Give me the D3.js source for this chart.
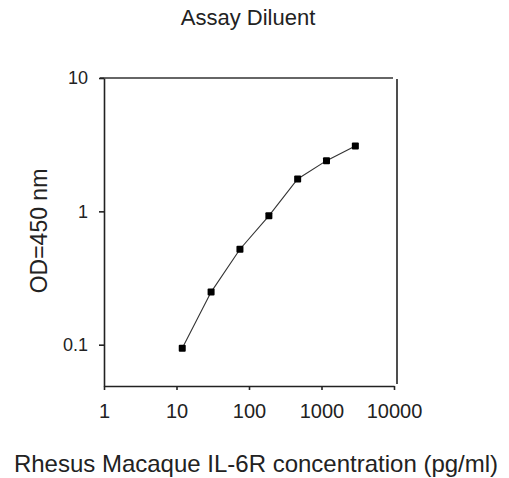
<!DOCTYPE html>
<html>
<head>
<meta charset="utf-8">
<script src="https://cdn.jsdelivr.net/npm/d3@7"></script>
<style>
  body { margin: 0; background: #fff; }
  text { font-family: "Liberation Sans", Arial, sans-serif; fill: #222; }
  .axis path, .axis line { stroke: #222; stroke-width: 1.6px; }
  .axis text { font-family: "Liberation Sans", Arial, sans-serif; fill: #222; }
</style>
</head>
<body>
<div id="chart"></div>
<script>
// concentration (pg/ml) and OD readings
var concentration = [12, 30, 75, 188, 469, 1172, 2930];
var od = [0.094, 0.248, 0.52, 0.925, 1.75, 2.4, 3.09];
var xTicks = [1, 10, 100, 1000, 10000];
var yTicks = [0.1, 1, 10];
var xBounds = [1, 10000];
var yBounds = [0.049, 10];

var width = 509, height = 478;
var svg = d3.select("#chart").append("svg")
    .attr("width", width)
    .attr("height", height);

// scales (log on both sides)
var x = d3.scaleLog().domain(xBounds).range([104, 394]);
var y = d3.scaleLog().domain(yBounds).range([386, 78]);

// the box: top and right lines
svg.append("line")
    .attr("x1", x(xBounds[0]) - 4).attr("x2", x(xBounds[1]) - 1)
    .attr("y1", y(yBounds[1])).attr("y2", y(yBounds[1]))
    .attr("stroke", "#333").attr("stroke-width", 1.6);
svg.append("line")
    .attr("x1", x(xBounds[1]) + 3).attr("x2", x(xBounds[1]) + 3)
    .attr("y1", y(yBounds[1]) + 1).attr("y2", y(yBounds[0]) - 2)
    .attr("stroke", "#222").attr("stroke-width", 1.6);

// x axis
var xAxis = d3.axisBottom(x)
    .tickValues(xTicks)
    .tickSize(4)
    .tickSizeOuter(0)
    .tickPadding(14)
    .tickFormat(d3.format("d"));
svg.append("g")
    .attr("class", "axis")
    .attr("transform", "translate(0," + y(yBounds[0]) + ")")
    .call(xAxis)
    .selectAll("text")
    .style("font-size", "20px");

// y axis
var yAxis = d3.axisLeft(y)
    .tickValues(yTicks)
    .tickSize(5)
    .tickSizeOuter(0)
    .tickPadding(11)
    .tickFormat(function(d) { return d < 1 ? d3.format(".1f")(d) : d3.format("d")(d); });
svg.append("g")
    .attr("class", "axis")
    .attr("transform", "translate(" + x(xBounds[0]) + ",0)")
    .call(yAxis)
    .selectAll("text")
    .style("font-size", "18px");

// data line
var points = concentration.map(function(c, i) { return [c, od[i]]; });
var valueLine = d3.line()
    .x(function(d) { return x(d[0]); })
    .y(function(d) { return y(d[1]); });
svg.append("path")
    .datum(points)
    .attr("fill", "none")
    .attr("stroke", "#333")
    .attr("stroke-width", 1.1)
    .attr("d", valueLine);

// square markers
svg.selectAll("rect.pt")
    .data(points)
    .enter().append("rect")
    .attr("class", "pt")
    .attr("x", function(d) { return x(d[0]) - 3.5; })
    .attr("y", function(d) { return y(d[1]) - 3.5; })
    .attr("width", 7)
    .attr("height", 7)
    .attr("rx", 1)
    .attr("fill", "#000");

// title and axis labels
svg.append("text")
    .attr("x", 248).attr("y", 25)
    .attr("text-anchor", "middle")
    .style("font-size", "22px")
    .text("Assay Diluent");

svg.append("text")
    .attr("x", 256).attr("y", 472)
    .attr("text-anchor", "middle")
    .style("font-size", "24px")
    .text("Rhesus Macaque IL-6R concentration (pg/ml)");

svg.append("text")
    .attr("transform", "translate(47,231) rotate(-90)")
    .attr("text-anchor", "middle")
    .style("font-size", "23px")
    .text("OD=450 nm");
</script>
</body>
</html>
